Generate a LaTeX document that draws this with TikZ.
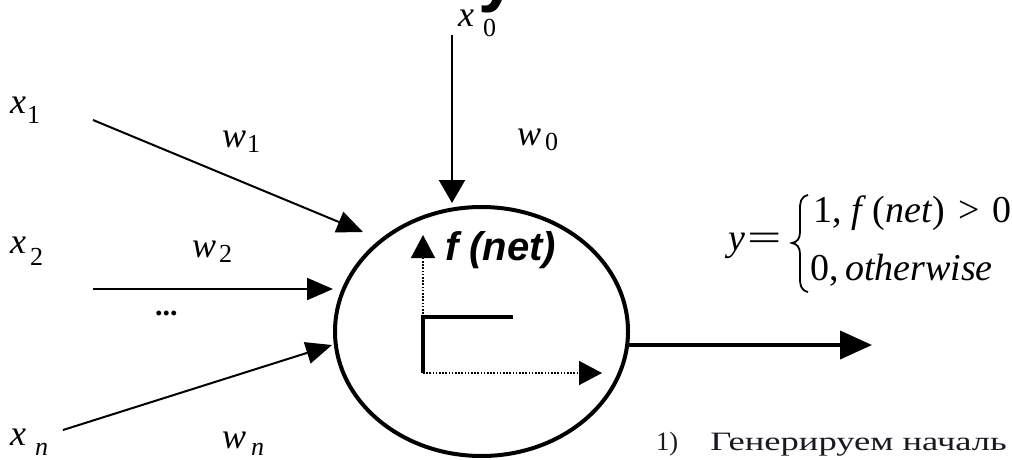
\documentclass[tikz,border=0pt]{standalone}
\usepackage{fontspec}
\setmainfont{Liberation Serif}
\setsansfont{Liberation Sans}
\usetikzlibrary{arrows.meta,shapes.geometric}
\newcommand{\fsz}[1]{\fontsize{#1}{#1}\selectfont}
\newcommand{\sublab}[4]{\textit{#1}\hspace{#3pt}\raisebox{-#4pt}{\fsz{26}#2}}
\begin{document}
\begin{tikzpicture}[x=1pt,y=-1pt,
  lbl/.style={inner sep=0pt, anchor=base west, font=\fsz{36}},
  inarrow/.style={line width=2pt, -{Triangle[length=26pt,width=22pt]}},
  outarrow/.style={line width=4pt, -{Triangle[length=32pt,width=28pt]}},
  axisarrow/.style={line width=1.6pt, dash pattern=on 1.6pt off 1.6pt, -{Triangle[length=23pt,width=24pt]}},
  eqtext/.style={inner sep=0pt, anchor=base west, font=\fsz{38}}]
\useasboundingbox (0,0) rectangle (1012,460);
\fill[white] (0,0) rectangle (1012,460);
% fragment of title glyph
\begin{scope}
\clip (0,0) rectangle (1012,460);
\node[inner sep=0pt, anchor=base west, font=\sffamily\bfseries\fsz{70}] (title) at (478,-1) {y};
\end{scope}
% neuron
\node[draw, ellipse, line width=4pt, minimum width=293pt, minimum height=249pt, inner sep=0pt] (neuron) at (481.5,331.5) {};
% inputs
\coordinate (x1s) at (93,120); \coordinate (x1e) at (363,232);
\coordinate (x2s) at (93,289); \coordinate (x2e) at (333,289);
\coordinate (xns) at (63,430); \coordinate (xne) at (332,345);
\coordinate (x0s) at (452,35); \coordinate (x0e) at (452,203);
\coordinate (outs) at (626,345); \coordinate (oute) at (872,345);
\draw[inarrow] (x1s) -- (x1e);
\draw[inarrow] (x2s) -- (x2e);
\draw[inarrow] (xns) -- (xne);
\draw[line width=2.4pt, -{Triangle[length=23pt,width=26pt]}] (x0s) -- (x0e);
\draw[outarrow] (outs) -- (oute);
% labels
\node[lbl] (lx1) at (10,113) {\sublab{x}{1}{1}{10}};
\node[lbl] (lx2) at (10,253) {\sublab{x}{2}{4}{12}};
\node[lbl] (lxn) at (10,445) {\sublab{x}{\textit{n}}{9}{10}};
\node[lbl] (lx0) at (458,27) {\sublab{x}{0}{9}{10}};
\node[lbl] (lw1) at (222,147) {\sublab{w}{1}{1}{5}};
\node[lbl] (lw2) at (192,257) {\sublab{w}{2}{3}{5}};
\node[lbl] (lwn) at (222,448) {\sublab{w}{\textit{n}}{5}{7}};
\node[lbl] (lw0) at (517,145) {\sublab{w}{0}{4}{5}};
\node[inner sep=0pt, anchor=base west, font=\bfseries\fsz{30}] (dots) at (155,315) {...};
% activation
\coordinate (org) at (423,373);
\coordinate (stepc) at (423,317);
\coordinate (stepe) at (513,317);
\coordinate (yax) at (423,235);
\coordinate (xax) at (602,373);
\draw[axisarrow] (stepc) -- (yax);
\draw[axisarrow] (org) -- (xax);
\draw[line width=4pt] (org) -- (stepc) -- (stepe);
\node[inner sep=0pt, anchor=base west, font=\sffamily\bfseries\itshape\fsz{40}] (fnet) at (445,260) {f (net)};
% equation
\node[eqtext] (eqy) at (728,250) {\textit{y}};
\node[inner sep=0pt, font=\fsz{38}] (eqeq) at (765,242) {\scalebox{1.6}[1]{=}};
\draw[line width=1.8pt] (808,195) .. controls (800,197) and (800,203) .. (800,210)
  -- (800,232) .. controls (800,239) and (797,242) .. (792,243)
  .. controls (797,244) and (800,247) .. (800,254)
  -- (800,277) .. controls (800,284) and (800,290) .. (808,292);
\node[eqtext] (eq1) at (813,222) {1, \textit{f}\,(\textit{net})\hspace{14pt}>\hspace{12pt}0};
\node[eqtext] (eq2) at (810,280) {0,\,\textit{otherwise}};
% bottom text
\node[inner sep=0pt, anchor=base west, font=\fsz{26.5}, text={rgb,255:red,25;green,25;blue,35}] (step1) at (656,450) {1)\hspace{32pt}\scalebox{1.38}[1]{Генерируем началь}};
\end{tikzpicture}
\end{document}
